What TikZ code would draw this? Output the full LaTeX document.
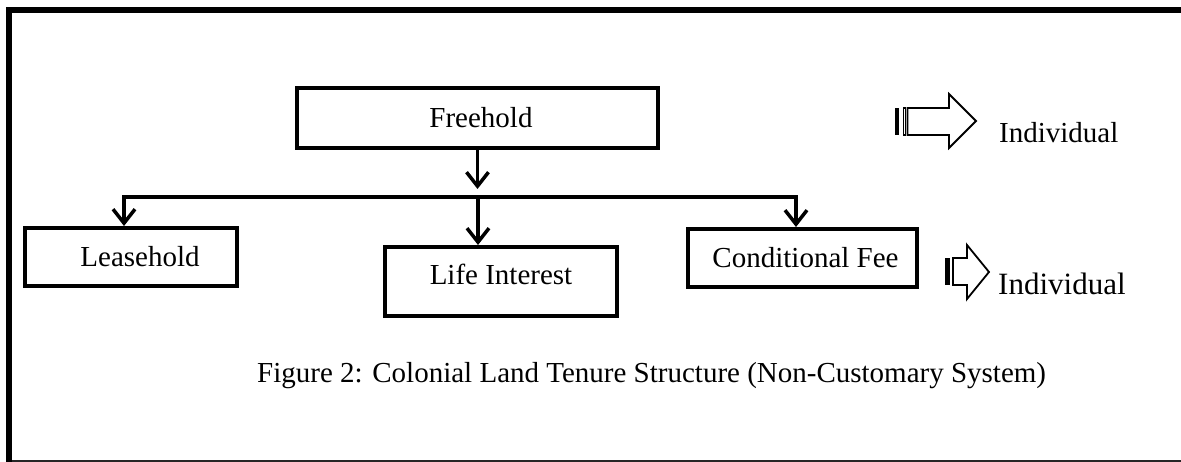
\documentclass[tikz,border=0pt]{standalone}
\usepackage{fontspec}
\setmainfont{Liberation Serif}
\usetikzlibrary{arrows.meta}
\begin{document}
\begin{tikzpicture}[x=1pt,y=-1pt,
  box/.style={draw,line width=4pt,inner sep=0pt,font=\fontsize{29}{33}\selectfont},
  conn/.style={line width=3.5pt,line join=miter},
  arr/.style={conn,-{Straight Barb[length=14pt,width=22pt]}},
  lbl/.style={inner sep=0pt,anchor=base west},
  blk/.style={draw,line width=1.8pt,line join=miter,fill=white}]
\useasboundingbox (0,0) rectangle (1181,462);
% frame
\draw[line width=5.5pt] (9,462) -- (9,10) -- (1181,10);
\draw[line width=1.6pt,black!85] (12,461) -- (1181,461);
% boxes
\node[box,minimum width=361pt,minimum height=60pt] (free) at (477.5,118) {\hspace*{7pt}Freehold};
\node[box,minimum width=212pt,minimum height=58pt] (lease) at (131,257) {\hspace*{18pt}Leasehold};
\node[box,minimum width=232pt,minimum height=69pt,text height=20pt,text depth=14pt] (life) at (501,281.5) {Life Interest};
\node[box,minimum width=229pt,minimum height=58pt] (cond) at (802.5,258) {\hspace*{6pt}Conditional Fee};
% connectors
\coordinate (ftip) at (478,189);
\coordinate (hl) at (124,197);
\coordinate (hr) at (796,197);
\coordinate (hc) at (478,197);
\draw[arr] (free.south) -- (free.south |- ftip);
\draw[arr] (hc) -- (hl) -- (hl |- lease.north);
\draw[arr] (hc) -- (hr) -- (hr |- cond.north);
\draw[arr] (hc) -- (hc |- life.north);
% striped block arrow 1
\fill (895,108) rectangle (898.5,135);
\draw[line width=1.8pt] (903.5,108) rectangle (905.5,135);
\draw[blk] (907.5,108) -- (949,108) -- (949,94) -- (976,121) -- (949,148) -- (949,135) -- (907.5,135) -- cycle;
\node[lbl,font=\fontsize{29}{33}\selectfont] (ind1) at (999,143) {Individual};
% striped block arrow 2
\fill (945,258) rectangle (950,285);
\draw[line width=1.5pt] (952.5,258) -- (952.5,285);
\draw[blk] (953,258) -- (967,258) -- (967,245) -- (989,272) -- (967,299) -- (967,285) -- (953,285) -- cycle;
\node[lbl,font=\fontsize{31}{35}\selectfont] (ind2) at (998,295) {Individual};
% caption
\node[lbl,font=\fontsize{29}{33}\selectfont] (cap) at (257,382) {Figure 2: Colonial Land Tenure Structure (Non-Customary System)};
\end{tikzpicture}
\end{document}
